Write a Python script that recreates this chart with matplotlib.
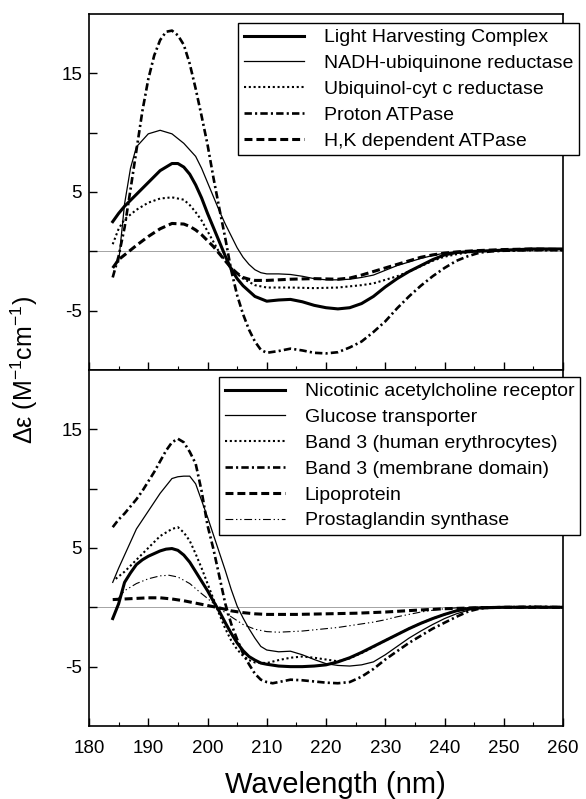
import matplotlib
matplotlib.use("Agg")
import matplotlib.pyplot as plt

plt.rcParams['font.family'] = ['Liberation Sans', 'DejaVu Sans']
plt.rcParams['mathtext.fontset'] = 'custom'
plt.rcParams['mathtext.rm'] = 'Liberation Sans'
plt.rcParams['axes.unicode_minus'] = False

# ---- top panel data (wavelength nm, delta epsilon) ----
lhc_wl = [184, 185, 186, 188, 190, 192, 194, 195, 196, 197, 198, 199, 200, 201, 202, 203, 204, 205, 206, 208,
          210, 212, 214, 216, 218, 220, 222, 224, 226, 228, 230, 232, 234, 236, 238, 240, 242, 245, 250, 255, 260]
lhc_de = [2.5, 3.2, 3.8, 4.8, 5.8, 6.8, 7.4, 7.4, 7.1, 6.5, 5.6, 4.5, 3.2, 2.0, 0.8, -0.4, -1.5, -2.3, -2.9, -3.8,
          -4.2, -4.1, -4.05, -4.25, -4.55, -4.75, -4.85, -4.75, -4.4, -3.8, -3.0, -2.3, -1.7, -1.2, -0.7, -0.3, -0.1, 0.0, 0.1, 0.2, 0.2]

nadh_wl = [185, 186, 187, 188, 190, 192, 194, 196, 198, 199, 200, 201, 202, 203, 204, 205, 206, 207, 208, 209,
           210, 212, 214, 216, 218, 220, 222, 224, 226, 228, 230, 232, 234, 236, 238, 240, 242, 245, 250, 255, 260]
nadh_de = [-0.9, 4.0, 7.0, 8.8, 9.9, 10.2, 9.9, 9.1, 8.0, 7.0, 5.8, 4.6, 3.4, 2.3, 1.3, 0.3, -0.5, -1.1, -1.55, -1.8,
           -1.9, -1.9, -1.95, -2.1, -2.3, -2.4, -2.4, -2.35, -2.2, -2.0, -1.6, -1.2, -0.9, -0.6, -0.35, -0.15, -0.05, 0.0, 0.1, 0.2, 0.2]

ubq_wl = [184, 185, 186, 188, 190, 192, 194, 196, 197, 198, 199, 200, 201, 202, 203, 204, 205, 206, 208, 210,
          214, 218, 222, 224, 226, 228, 230, 232, 234, 236, 238, 240, 242, 245, 250, 255, 260]
ubq_de = [0.6, 1.9, 2.7, 3.5, 4.1, 4.45, 4.55, 4.35, 3.9, 3.3, 2.6, 1.7, 0.8, -0.1, -0.8, -1.4, -1.9, -2.3, -2.85, -3.05,
          -3.05, -3.1, -3.05, -2.95, -2.85, -2.7, -2.4, -2.1, -1.7, -1.25, -0.8, -0.45, -0.25, 0.0, 0.05, 0.1, 0.1]

proton_wl = [184, 185, 186, 187, 188, 189, 190, 191, 192, 193, 194, 195, 196, 197, 198, 199, 200, 201, 202, 203,
             204, 205, 206, 207, 208, 209, 210, 212, 214, 216, 218, 220, 222, 224, 226, 228, 230, 232, 234, 236,
             238, 240, 242, 244, 246, 248, 250, 255, 260]
proton_de = [-2.2, -0.4, 2.0, 5.2, 8.5, 11.8, 14.5, 16.5, 17.8, 18.5, 18.6, 18.2, 17.4, 15.8, 13.7, 11.4, 9.0, 6.2, 3.6, 1.1,
             -1.6, -3.7, -5.3, -6.6, -7.6, -8.3, -8.55, -8.4, -8.2, -8.35, -8.55, -8.6, -8.5, -8.1, -7.6, -6.8, -5.9, -4.8, -3.8, -2.9,
             -2.1, -1.4, -0.8, -0.4, -0.1, 0.0, 0.05, 0.1, 0.1]

hk_wl = [184, 185, 186, 188, 190, 192, 194, 196, 197, 198, 199, 200, 201, 202, 203, 204, 205, 206, 207, 208,
         210, 214, 218, 222, 224, 226, 228, 230, 232, 234, 236, 238, 240, 242, 245, 250, 255, 260]
hk_de = [-1.4, -0.7, -0.3, 0.5, 1.25, 1.9, 2.35, 2.3, 2.1, 1.8, 1.4, 0.9, 0.4, -0.2, -0.8, -1.4, -1.85, -2.2, -2.35, -2.45,
         -2.45, -2.35, -2.3, -2.35, -2.25, -2.0, -1.7, -1.4, -1.1, -0.8, -0.5, -0.3, -0.15, -0.05, 0.05, 0.15, 0.2, 0.15]

# ---- bottom panel data ----
achr_wl = [184, 185, 186, 187, 188, 189, 190, 192, 193, 194, 195, 196, 197, 198, 199, 200, 201, 202, 203, 204,
           205, 206, 207, 208, 209, 210, 212, 214, 216, 218, 220, 222, 224, 226, 228, 230, 232, 234, 236, 238,
           240, 242, 244, 246, 250, 255, 260]
achr_de = [-0.95, 0.3, 2.1, 2.9, 3.6, 4.0, 4.3, 4.75, 4.9, 4.95, 4.8, 4.4, 3.8, 3.0, 2.2, 1.4, 0.5, -0.35, -1.3, -2.2,
           -3.0, -3.65, -4.15, -4.45, -4.7, -4.8, -4.95, -5.0, -5.0, -4.95, -4.85, -4.6, -4.25, -3.8, -3.3, -2.8, -2.3, -1.8, -1.35, -0.95,
           -0.6, -0.3, -0.1, -0.05, 0.0, 0.0, 0.0]

gluc_wl = [184, 185, 186, 188, 190, 192, 194, 195, 196, 197, 198, 199, 200, 201, 202, 203, 204, 205, 206, 207,
           208, 209, 210, 212, 214, 216, 218, 220, 222, 224, 226, 228, 230, 232, 234, 236, 238, 240, 242, 244,
           246, 250, 255, 260]
gluc_de = [2.1, 3.3, 4.4, 6.6, 8.1, 9.6, 10.85, 11.0, 11.05, 11.05, 10.4, 9.0, 7.6, 6.1, 4.6, 3.1, 1.5, 0.1, -0.9, -1.8,
           -2.6, -3.3, -3.6, -3.75, -3.7, -4.0, -4.4, -4.75, -4.9, -4.95, -4.85, -4.6, -4.0, -3.3, -2.6, -2.0, -1.45, -0.95, -0.55, -0.25,
           -0.05, 0.0, 0.05, 0.0]

b3h_wl = [184.5, 186, 188, 190, 192, 194, 195, 196, 197, 198, 199, 200, 201, 202, 203, 204, 205, 206, 207, 208,
          210, 212, 214, 216, 218, 220, 222, 224, 226, 228, 230, 232, 234, 236, 238, 240, 242, 244, 246, 250,
          255, 260]
b3h_de = [2.4, 3.0, 4.0, 5.0, 6.0, 6.6, 6.75, 6.3, 5.6, 4.5, 3.3, 2.0, 0.7, -0.6, -1.8, -2.8, -3.55, -4.1, -4.45, -4.65,
          -4.7, -4.45, -4.25, -4.15, -4.25, -4.4, -4.55, -4.3, -3.85, -3.35, -2.8, -2.3, -1.8, -1.35, -0.95, -0.6, -0.3, -0.1, 0.0, 0.0,
          0.0, 0.0]

b3m_wl = [184, 185, 186, 187, 188, 189, 190, 191, 192, 193, 194, 195, 196, 197, 198, 199, 200, 201, 202, 203,
          204, 205, 206, 207, 208, 209, 210, 211, 212, 214, 216, 218, 220, 222, 224, 226, 228, 230, 232, 234,
          236, 238, 240, 242, 244, 246, 248, 250, 255, 260]
b3m_de = [6.75, 7.4, 7.9, 8.5, 9.1, 9.8, 10.6, 11.4, 12.3, 13.2, 13.9, 14.2, 13.9, 13.1, 12.1, 9.8, 6.9, 4.9, 2.6, 0.3,
          -1.4, -2.7, -3.9, -4.8, -5.6, -6.1, -6.3, -6.4, -6.3, -6.1, -6.15, -6.25, -6.35, -6.4, -6.3, -5.85, -5.2, -4.4, -3.7, -3.0,
          -2.4, -1.8, -1.3, -0.8, -0.35, -0.1, 0.0, 0.0, 0.05, 0.0]

lipo_wl = [184, 186, 188, 190, 192, 194, 196, 198, 200, 202, 204, 206, 208, 210, 215, 220, 225, 230, 235, 240,
           245, 250, 255, 260]
lipo_de = [0.65, 0.7, 0.75, 0.8, 0.8, 0.7, 0.55, 0.35, 0.15, -0.05, -0.3, -0.45, -0.55, -0.6, -0.6, -0.55, -0.5, -0.4, -0.25, -0.12,
           -0.05, 0.0, 0.0, 0.0]

prost_wl = [185, 186, 188, 190, 192, 193.5, 195, 197, 199, 200, 201.7, 203, 204, 206, 208, 210, 212, 214, 216, 218,
            220, 222, 224, 226, 228, 230, 232, 234, 236, 238, 240, 242, 245, 250, 255, 260]
prost_de = [0.8, 1.4, 2.0, 2.4, 2.65, 2.7, 2.55, 2.0, 1.15, 0.75, 0.0, -0.45, -0.8, -1.45, -1.85, -2.05, -2.1, -2.05, -2.0, -1.9,
            -1.8, -1.7, -1.55, -1.4, -1.25, -1.05, -0.8, -0.6, -0.4, -0.25, -0.12, -0.05, 0.0, 0.0, 0.0, 0.0]

top_labels = ['Light Harvesting Complex', 'NADH-ubiquinone reductase', 'Ubiquinol-cyt c reductase',
              'Proton ATPase', 'H,K dependent ATPase']
bottom_labels = ['Nicotinic acetylcholine receptor', 'Glucose transporter', 'Band 3 (human erythrocytes)',
                 'Band 3 (membrane domain)', 'Lipoprotein', 'Prostaglandin synthase']

# line styles
thick = dict(color='black', lw=2.2, ls='-')
thin = dict(color='black', lw=0.9, ls='-')
dotted = dict(color='black', lw=1.5, ls=(0, (1, 1.3)))
dashdot = dict(color='black', lw=1.9, ls=(0, (2.8, 1.2, 0.8, 1.2)))
dashed = dict(color='black', lw=2.2, ls=(0, (2.6, 1.3)))
dashdotdot = dict(color='black', lw=0.8, ls=(0, (7, 2.5, 1.2, 2.5, 1.2, 2.5)))

fig = plt.figure(figsize=(5.86, 7.99), dpi=100)
ax1 = fig.add_axes([0.1519, 0.5369, 0.8089, 0.4456])
ax2 = fig.add_axes([0.1519, 0.0914, 0.8089, 0.4456])

for ax in (ax1, ax2):
    ax.axhline(0, color='0.5', lw=0.5, zorder=1)
    ax.set_xlim(180, 260)
    ax.set_ylim(-10, 20)
    ax.set_xticks(range(180, 261, 10))
    ax.set_xticks(range(185, 260, 10), minor=True)
    ax.set_yticks([-5, 0, 5, 10, 15])
    ax.set_yticklabels(['-5', '', '5', '', '15'])
    ax.tick_params(direction='in', length=6, width=1, labelsize=13.5, pad=10)
    ax.tick_params(axis='y', pad=5)
    ax.tick_params(which='minor', direction='in', length=3, width=0.8)
    for s in ax.spines.values():
        s.set_linewidth(1.2)

ax1.tick_params(axis='x', labelbottom=False)

ax1.plot(lhc_wl, lhc_de, label=top_labels[0], **thick)
ax1.plot(nadh_wl, nadh_de, label=top_labels[1], **thin)
ax1.plot(ubq_wl, ubq_de, label=top_labels[2], **dotted)
ax1.plot(proton_wl, proton_de, label=top_labels[3], **dashdot)
ax1.plot(hk_wl, hk_de, label=top_labels[4], **dashed)

ax2.plot(achr_wl, achr_de, label=bottom_labels[0], **thick)
ax2.plot(gluc_wl, gluc_de, label=bottom_labels[1], **thin)
ax2.plot(b3h_wl, b3h_de, label=bottom_labels[2], **dotted)
ax2.plot(b3m_wl, b3m_de, label=bottom_labels[3], **dashdot)
ax2.plot(lipo_wl, lipo_de, label=bottom_labels[4], **dashed)
ax2.plot(prost_wl, prost_de, label=bottom_labels[5], **dashdotdot)

leg_kw = dict(loc='upper left', bbox_transform=fig.transFigure, fontsize=14, frameon=True, fancybox=False,
              edgecolor='black', framealpha=1, borderaxespad=0, handlelength=3.1, handletextpad=1.0,
              borderpad=0.3, labelspacing=0.42)
l1 = ax1.legend(bbox_to_anchor=(238 / 586, 1 - 23 / 799), **leg_kw)
l2 = ax2.legend(bbox_to_anchor=(219 / 586, 1 - 377 / 799), **leg_kw)
for lg in (l1, l2):
    lg.get_frame().set_linewidth(1.0)
    lg.set_zorder(10)

fig.text(40 / 586, 0.537, 'Δε (M$^{-1}$cm$^{-1}$)', rotation=90, ha='right', va='center', fontsize=18)
fig.text(335 / 586, 1 - 793 / 799, 'Wavelength (nm)', ha='center', va='baseline', fontsize=21)

plt.savefig('out.png', dpi=100)
